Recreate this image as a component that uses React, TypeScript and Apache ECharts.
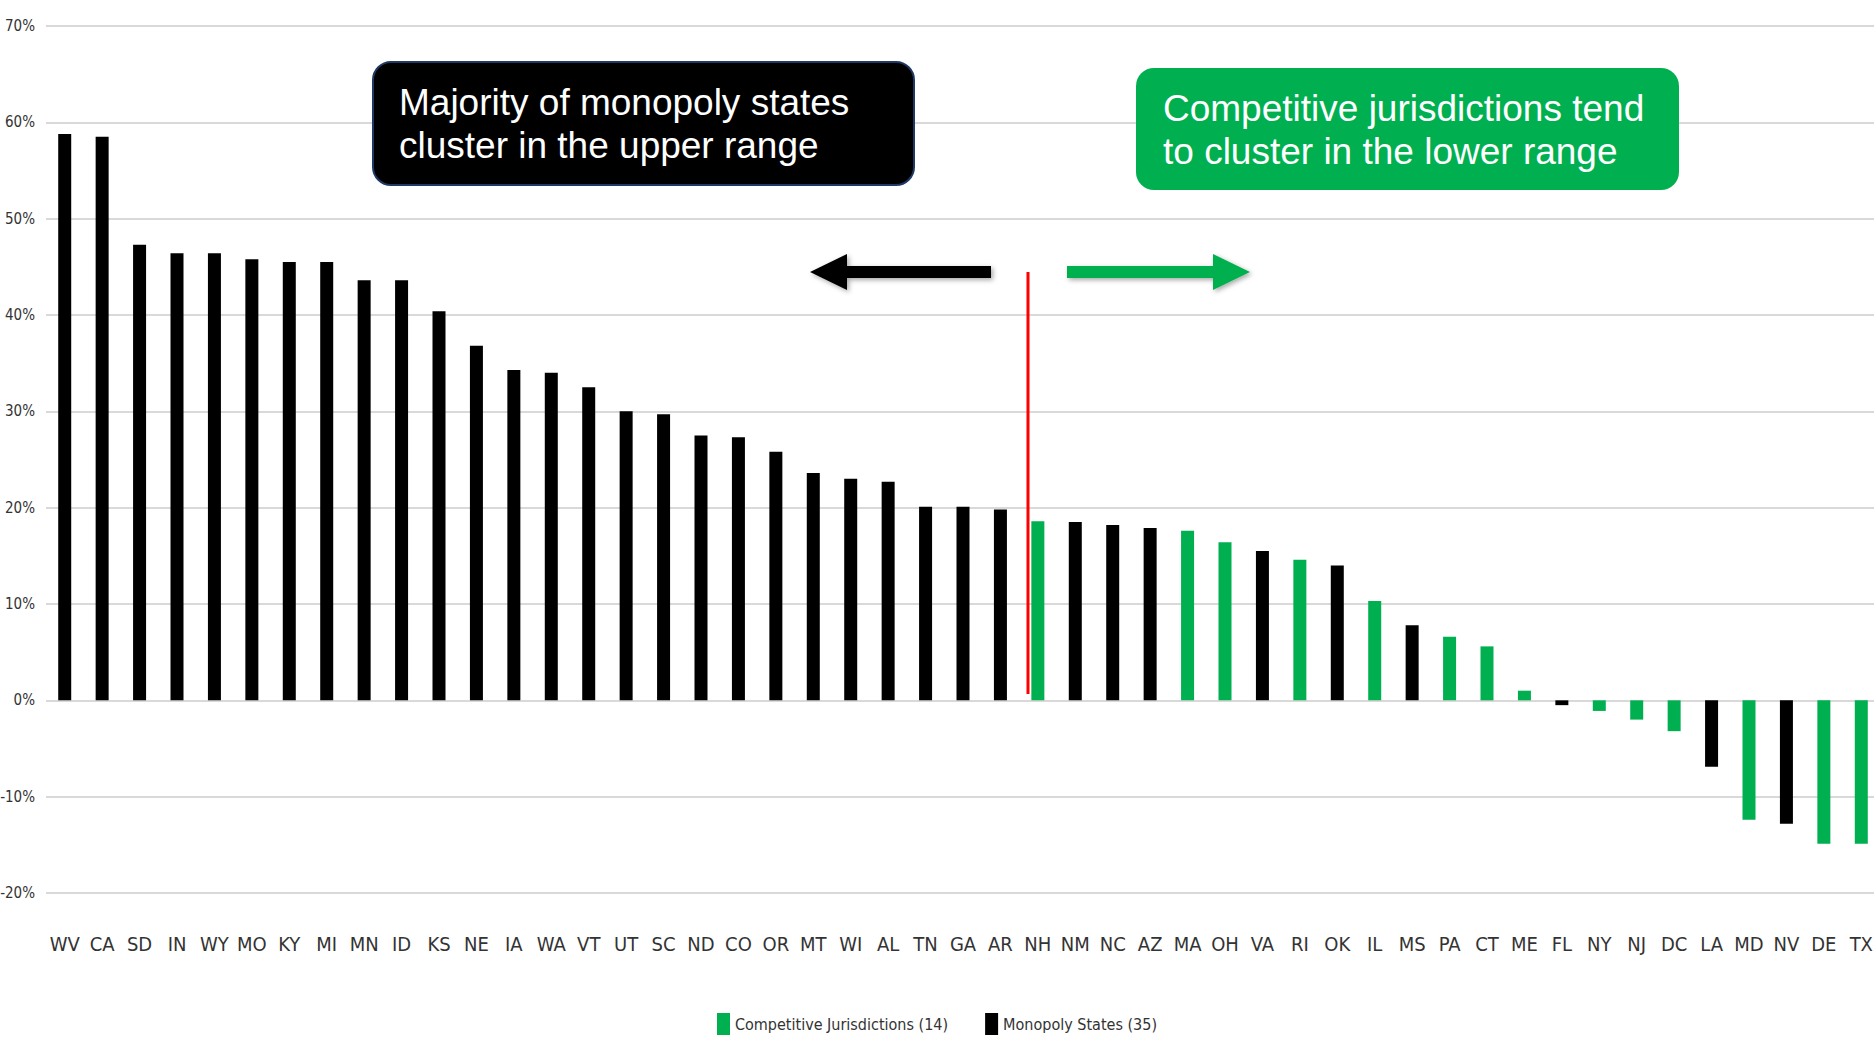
import React, { useEffect, useRef } from "react";
import * as echarts from "echarts";

const states = [
  "WV", "CA", "SD", "IN", "WY", "MO", "KY", "MI", "MN", "ID", "KS", "NE", "IA", "WA", "VT", "UT", "SC",
  "ND", "CO", "OR", "MT", "WI", "AL", "TN", "GA", "AR", "NH", "NM", "NC", "AZ", "MA", "OH", "VA", "RI",
  "OK", "IL", "MS", "PA", "CT", "ME", "FL", "NY", "NJ", "DC", "LA", "MD", "NV", "DE", "TX",
];

const values = [
  58.8, 58.5, 47.3, 46.4, 46.4, 45.8, 45.5, 45.5, 43.6, 43.6, 40.4, 36.8, 34.3, 34.0, 32.5, 30.0, 29.7,
  27.5, 27.3, 25.8, 23.6, 23.0, 22.7, 20.1, 20.1, 19.8, 18.6, 18.5, 18.2, 17.9, 17.6, 16.4, 15.5, 14.6,
  14.0, 10.3, 7.8, 6.6, 5.6, 1.0, -0.5, -1.1, -2.0, -3.2, -6.9, -12.4, -12.8, -14.9, -14.9,
];

// C = competitive jurisdiction, M = monopoly state
const types = [
  "M", "M", "M", "M", "M", "M", "M", "M", "M", "M", "M", "M", "M", "M", "M", "M", "M",
  "M", "M", "M", "M", "M", "M", "M", "M", "M", "C", "M", "M", "M", "C", "C", "M", "C",
  "M", "C", "M", "C", "C", "C", "M", "C", "C", "C", "M", "C", "M", "C", "C",
];

const seriesNames = ["Competitive Jurisdictions (14)", "Monopoly States (35)"];
const yMin = -20;
const yMax = 70;
const yInterval = 10;

const GREEN = "#00b050";
const BLACK = "#000000";
const LABEL_FONT = '"DejaVu Sans Condensed", "Liberation Sans", sans-serif';
const BOX_FONT = '"Liberation Sans", Arial, sans-serif';

export default function App() {
  const ref = useRef<HTMLDivElement>(null);

  useEffect(() => {
    document.body.style.margin = "0";
    document.body.style.overflow = "hidden";
    if (!ref.current) return;
    const chart = echarts.init(ref.current, null, { renderer: "svg" });

    const competitive = values.map((v, i) => (types[i] === "C" ? v : "-"));
    const monopoly = values.map((v, i) => (types[i] === "M" ? v : "-"));

    const arrowShadow = {
      shadowBlur: 5,
      shadowColor: "rgba(0,0,0,0.35)",
      shadowOffsetX: 2,
      shadowOffsetY: 2,
    };

    chart.setOption({
      animation: false,
      backgroundColor: "#ffffff",
      grid: {
        left: 46,
        top: 26,
        width: 1834,
        height: 867,
        containLabel: false,
        outerBoundsMode: "none",
      },
      legend: {
        data: seriesNames,
        top: 1013,
        left: "center",
        icon: "rect",
        itemWidth: 13,
        itemHeight: 22,
        itemGap: 37,
        padding: 0,
        textStyle: {
          fontFamily: LABEL_FONT,
          fontSize: 16,
          color: "#333333",
        },
      },
      xAxis: {
        type: "category",
        data: states,
        position: "bottom",
        axisLine: { show: false, onZero: false },
        axisTick: { show: false },
        axisLabel: {
          interval: 0,
          margin: 41,
          fontFamily: LABEL_FONT,
          fontSize: 20,
          color: "#333333",
        },
        splitLine: { show: false },
      },
      yAxis: {
        type: "value",
        min: yMin,
        max: yMax,
        interval: yInterval,
        axisLine: { show: false },
        axisTick: { show: false },
        axisLabel: {
          formatter: "{value}%",
          margin: 11,
          fontFamily: LABEL_FONT,
          fontSize: 15,
          color: "#333333",
        },
        splitLine: { lineStyle: { color: "#d9d9d9", width: 2 } },
      },
      series: [
        {
          name: seriesNames[0],
          type: "bar",
          data: competitive,
          barWidth: 13,
          barGap: "-100%",
          itemStyle: { color: GREEN },
        },
        {
          name: seriesNames[1],
          type: "bar",
          data: monopoly,
          barWidth: 13,
          barGap: "-100%",
          itemStyle: { color: BLACK },
        },
      ],
      graphic: [
        {
          type: "rect",
          shape: { x: 373, y: 62, width: 541, height: 123, r: 18 },
          style: { fill: "#000000", stroke: "#1f3864", lineWidth: 2 },
          z: 10,
        },
        {
          type: "text",
          x: 399,
          y: 124,
          style: {
            text: "Majority of monopoly states\ncluster in the upper range",
            fill: "#ffffff",
            font: `37px ${BOX_FONT}`,
            lineHeight: 43,
            align: "left",
            verticalAlign: "middle",
          },
          z: 11,
        },
        {
          type: "rect",
          shape: { x: 1136, y: 68, width: 543, height: 122, r: 18 },
          style: { fill: GREEN },
          z: 10,
        },
        {
          type: "text",
          x: 1163,
          y: 130,
          style: {
            text: "Competitive jurisdictions tend\nto cluster in the lower range",
            fill: "#ffffff",
            font: `37px ${BOX_FONT}`,
            lineHeight: 43,
            align: "left",
            verticalAlign: "middle",
          },
          z: 11,
        },
        {
          type: "line",
          shape: { x1: 1028, y1: 272, x2: 1028, y2: 694 },
          style: { stroke: "#ff0000", lineWidth: 3 },
          z: 10,
        },
        {
          type: "polygon",
          shape: {
            points: [
              [810, 272], [847, 254], [847, 266], [991, 266], [991, 278], [847, 278], [847, 290],
            ],
          },
          style: { fill: "#000000", ...arrowShadow },
          z: 10,
        },
        {
          type: "polygon",
          shape: {
            points: [
              [1250, 272], [1213, 254], [1213, 266], [1067, 266], [1067, 278], [1213, 278], [1213, 290],
            ],
          },
          style: { fill: GREEN, ...arrowShadow },
          z: 10,
        },
      ],
    });

    return () => chart.dispose();
  }, []);

  return <div ref={ref} style={{ width: 1874, height: 1038 }} />;
}
